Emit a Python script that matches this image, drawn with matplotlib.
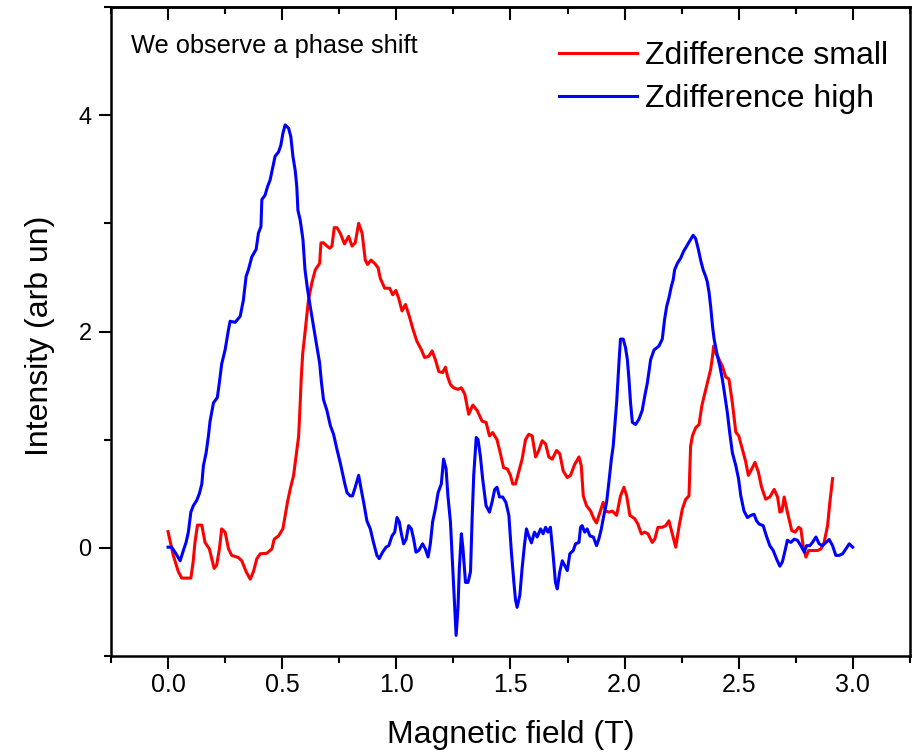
import numpy as np
import matplotlib
matplotlib.use('Agg')
import matplotlib.pyplot as plt
from matplotlib.ticker import MultipleLocator

plt.rcParams['font.family'] = ['Liberation Sans', 'DejaVu Sans']

# Zdifference small (red)
xSmall = [0.000, 0.023, 0.045, 0.060, 0.100, 0.110, 0.118, 0.129, 0.148, 0.162,
          0.181, 0.202, 0.213, 0.225, 0.235, 0.250, 0.265, 0.279, 0.308, 0.323,
          0.342, 0.360, 0.374, 0.389, 0.404, 0.433, 0.455, 0.465, 0.484, 0.503,
          0.513, 0.523, 0.535, 0.550, 0.561, 0.572, 0.579, 0.583, 0.590, 0.600,
          0.615, 0.630, 0.645, 0.664, 0.670, 0.681, 0.696, 0.708, 0.718, 0.728,
          0.740, 0.754, 0.773, 0.791, 0.806, 0.820, 0.835, 0.850, 0.864, 0.874,
          0.889, 0.905, 0.920, 0.930, 0.949, 0.971, 0.984, 0.998, 1.010, 1.025,
          1.040, 1.057, 1.073, 1.090, 1.110, 1.124, 1.142, 1.157, 1.171, 1.186,
          1.203, 1.215, 1.225, 1.237, 1.251, 1.270, 1.285, 1.300, 1.317, 1.335,
          1.354, 1.376, 1.393, 1.408, 1.422, 1.441, 1.456, 1.470, 1.486, 1.500,
          1.510, 1.522, 1.536, 1.551, 1.566, 1.580, 1.595, 1.610, 1.624, 1.639,
          1.654, 1.668, 1.683, 1.702, 1.716, 1.731, 1.749, 1.763, 1.781, 1.800,
          1.810, 1.819, 1.833, 1.851, 1.865, 1.877, 1.892, 1.906, 1.917, 1.931,
          1.946, 1.965, 1.982, 1.997, 2.009, 2.023, 2.044, 2.058, 2.073, 2.088,
          2.102, 2.121, 2.132, 2.146, 2.165, 2.180, 2.194, 2.209, 2.224, 2.239,
          2.253, 2.268, 2.282, 2.289, 2.297, 2.311, 2.326, 2.338, 2.348, 2.363,
          2.377, 2.385, 2.390, 2.400, 2.414, 2.428, 2.443, 2.457, 2.472, 2.487,
          2.500, 2.516, 2.530, 2.542, 2.557, 2.571, 2.586, 2.600, 2.618, 2.636,
          2.655, 2.670, 2.680, 2.689, 2.699, 2.713, 2.732, 2.747, 2.762, 2.772,
          2.782, 2.794, 2.806, 2.823, 2.845, 2.860, 2.874, 2.889, 2.899, 2.911]
ySmall = [0.15, -0.07, -0.22, -0.28, -0.28, -0.13, 0.05, 0.21, 0.21, 0.05,
          -0.01, -0.19, -0.16, -0.01, 0.175, 0.145, -0.01, -0.07, -0.09, -0.12,
          -0.22, -0.29, -0.22, -0.10, -0.055, -0.05, -0.01, 0.08, 0.11, 0.175,
          0.30, 0.42, 0.54, 0.67, 0.85, 1.03, 1.34, 1.55, 1.80, 1.99,
          2.29, 2.45, 2.57, 2.63, 2.82, 2.82, 2.79, 2.77, 2.79, 2.96,
          2.96, 2.91, 2.81, 2.88, 2.79, 2.82, 3.00, 2.91, 2.66, 2.62,
          2.66, 2.63, 2.59, 2.49, 2.40, 2.40, 2.34, 2.38, 2.31, 2.19,
          2.25, 2.14, 2.02, 1.91, 1.83, 1.76, 1.77, 1.82, 1.74, 1.63,
          1.62, 1.67, 1.58, 1.51, 1.48, 1.465, 1.48, 1.42, 1.235, 1.32,
          1.27, 1.17, 1.16, 1.035, 1.066, 1.00, 0.87, 0.74, 0.73, 0.67,
          0.59, 0.59, 0.70, 0.82, 1.00, 1.05, 1.035, 0.84, 0.90, 0.99,
          0.96, 0.84, 0.82, 0.90, 0.87, 0.71, 0.65, 0.67, 0.77, 0.84,
          0.76, 0.48, 0.39, 0.34, 0.27, 0.23, 0.33, 0.42, 0.34, 0.33,
          0.34, 0.30, 0.48, 0.56, 0.48, 0.30, 0.27, 0.22, 0.13, 0.145,
          0.13, 0.05, 0.08, 0.19, 0.19, 0.205, 0.25, 0.13, 0.006, 0.205,
          0.36, 0.45, 0.48, 0.94, 1.035, 1.11, 1.14, 1.31, 1.40, 1.53,
          1.65, 1.77, 1.865, 1.80, 1.74, 1.68, 1.58, 1.56, 1.34, 1.07,
          1.035, 0.91, 0.80, 0.67, 0.73, 0.79, 0.70, 0.56, 0.45, 0.47,
          0.54, 0.47, 0.33, 0.34, 0.47, 0.33, 0.16, 0.145, 0.19, 0.175,
          0.02, -0.085, -0.025, -0.025, -0.025, -0.01, 0.05, 0.205, 0.42, 0.64]

# Zdifference high (blue)
xHigh = [0.000, 0.016, 0.035, 0.053, 0.067, 0.079, 0.089, 0.100, 0.111, 0.126,
         0.137, 0.148, 0.155, 0.167, 0.177, 0.184, 0.199, 0.216, 0.225, 0.235,
         0.250, 0.265, 0.272, 0.294, 0.316, 0.330, 0.342, 0.352, 0.367, 0.386,
         0.396, 0.407, 0.411, 0.425, 0.436, 0.447, 0.459, 0.469, 0.484, 0.494,
         0.503, 0.513, 0.528, 0.538, 0.547, 0.557, 0.564, 0.569, 0.579, 0.591,
         0.600, 0.611, 0.623, 0.637, 0.652, 0.664, 0.672, 0.681, 0.696, 0.711,
         0.725, 0.740, 0.755, 0.773, 0.784, 0.798, 0.808, 0.820, 0.835, 0.846,
         0.857, 0.871, 0.886, 0.900, 0.915, 0.925, 0.940, 0.955, 0.967, 0.981,
         0.993, 1.003, 1.013, 1.022, 1.032, 1.043, 1.054, 1.066, 1.076, 1.086,
         1.098, 1.115, 1.127, 1.139, 1.149, 1.159, 1.171, 1.183, 1.197, 1.207,
         1.218, 1.226, 1.237, 1.247, 1.256, 1.262, 1.270, 1.276, 1.285, 1.292,
         1.303, 1.314, 1.325, 1.332, 1.339, 1.350, 1.358, 1.368, 1.378, 1.393,
         1.408, 1.419, 1.431, 1.441, 1.452, 1.466, 1.480, 1.493, 1.504, 1.515,
         1.522, 1.529, 1.541, 1.551, 1.561, 1.570, 1.580, 1.592, 1.605, 1.617,
         1.632, 1.643, 1.654, 1.664, 1.675, 1.687, 1.697, 1.705, 1.716, 1.727,
         1.737, 1.749, 1.760, 1.775, 1.785, 1.800, 1.807, 1.814, 1.825, 1.836,
         1.848, 1.863, 1.877, 1.887, 1.898, 1.909, 1.921, 1.931, 1.942, 1.950,
         1.956, 1.965, 1.971, 1.976, 1.982, 1.994, 2.004, 2.012, 2.019, 2.026,
         2.034, 2.048, 2.063, 2.077, 2.088, 2.100, 2.114, 2.129, 2.150, 2.165,
         2.175, 2.184, 2.194, 2.205, 2.213, 2.219, 2.231, 2.246, 2.258, 2.272,
         2.286, 2.300, 2.311, 2.323, 2.333, 2.344, 2.355, 2.362, 2.370, 2.377,
         2.385, 2.392, 2.404, 2.417, 2.428, 2.435, 2.450, 2.460, 2.472, 2.487,
         2.499, 2.509, 2.523, 2.538, 2.553, 2.567, 2.578, 2.589, 2.607, 2.621,
         2.636, 2.651, 2.665, 2.680, 2.691, 2.703, 2.713, 2.728, 2.743, 2.757,
         2.772, 2.787, 2.797, 2.811, 2.823, 2.838, 2.852, 2.867, 2.882, 2.896,
         2.911, 2.925, 2.940, 2.955, 2.969, 2.984, 2.999]
yHigh = [0.006, 0.006, -0.055, -0.12, -0.025, 0.05, 0.145, 0.33, 0.39, 0.44,
         0.50, 0.59, 0.76, 0.88, 1.035, 1.17, 1.34, 1.39, 1.53, 1.70,
         1.83, 2.02, 2.095, 2.085, 2.14, 2.29, 2.51, 2.57, 2.69, 2.76,
         2.91, 2.97, 3.22, 3.26, 3.34, 3.40, 3.52, 3.62, 3.66, 3.72,
         3.83, 3.91, 3.88, 3.80, 3.62, 3.49, 3.34, 3.12, 3.03, 2.85,
         2.57, 2.39, 2.23, 2.05, 1.86, 1.71, 1.53, 1.37, 1.27, 1.13,
         1.05, 0.91, 0.78, 0.605, 0.51, 0.48, 0.48, 0.56, 0.67, 0.54,
         0.42, 0.25, 0.175, 0.05, -0.07, -0.10, -0.04, 0.006, 0.02, 0.11,
         0.145, 0.28, 0.24, 0.13, 0.037, 0.08, 0.205, 0.175, 0.08, -0.04,
         -0.025, 0.037, -0.01, -0.085, 0.037, 0.24, 0.36, 0.51, 0.59, 0.82,
         0.73, 0.48, 0.24, -0.19, -0.56, -0.81, -0.56, -0.19, 0.13, -0.01,
         -0.32, -0.32, -0.22, 0.27, 0.67, 1.02, 1.00, 0.85, 0.64, 0.39,
         0.33, 0.42, 0.54, 0.56, 0.47, 0.47, 0.42, 0.30, -0.04, -0.32,
         -0.48, -0.55, -0.44, -0.19, 0.02, 0.175, 0.11, 0.046, 0.145, 0.10,
         0.175, 0.13, 0.19, 0.145, 0.19, -0.07, -0.32, -0.38, -0.22, -0.12,
         -0.16, -0.21, -0.055, -0.025, 0.037, 0.05, 0.19, 0.205, 0.145, 0.175,
         0.11, 0.10, 0.02, 0.08, 0.175, 0.30, 0.42, 0.605, 0.82, 0.94,
         1.10, 1.34, 1.56, 1.74, 1.93, 1.93, 1.85, 1.74, 1.56, 1.34,
         1.16, 1.14, 1.19, 1.27, 1.40, 1.53, 1.74, 1.83, 1.865, 1.93,
         2.11, 2.23, 2.31, 2.42, 2.48, 2.57, 2.63, 2.68, 2.74, 2.79,
         2.84, 2.89, 2.86, 2.76, 2.66, 2.57, 2.51, 2.46, 2.36, 2.23,
         2.05, 1.93, 1.80, 1.68, 1.56, 1.465, 1.25, 1.07, 0.88, 0.76,
         0.64, 0.48, 0.34, 0.28, 0.30, 0.31, 0.25, 0.22, 0.205, 0.11,
         0.02, -0.025, -0.10, -0.17, -0.13, -0.025, 0.07, 0.05, 0.08, 0.07,
         0.02, -0.04, 0.02, 0.02, 0.05, 0.10, 0.037, 0.02, 0.05, 0.077,
         0.02, -0.07, -0.07, -0.055, -0.01, 0.037, 0.006]

seriesLabels = ['Zdifference small', 'Zdifference high']
noteText = 'We observe a phase shift'

fig = plt.figure(figsize=(9.14, 7.56), dpi=100)
ax = fig.add_axes([0.1214, 0.1323, 0.8742, 0.8584])

ax.plot(xSmall, ySmall, color='#ff0000', lw=2.2, label=seriesLabels[0],
        solid_joinstyle='round')
ax.plot(xHigh, yHigh, color='#0000ff', lw=2.2, label=seriesLabels[1],
        solid_joinstyle='round')

ax.set_xlim(-0.25, 3.25)
ax.set_ylim(-1, 5)
ax.xaxis.set_major_locator(MultipleLocator(0.5))
ax.xaxis.set_minor_locator(MultipleLocator(0.25))
ax.yaxis.set_major_locator(MultipleLocator(2))
ax.yaxis.set_minor_locator(MultipleLocator(1))
ax.xaxis.set_major_formatter(plt.FormatStrFormatter('%.1f'))

for s in ax.spines.values():
    s.set_linewidth(1.8)

# bottom/left ticks outward, top ticks inward, none on right
ax.tick_params(axis='x', which='both', bottom=True, top=False, direction='out',
               width=1.5, labelsize=18, pad=3)
ax.tick_params(axis='x', which='major', length=9)
ax.tick_params(axis='x', which='minor', length=5)
ax.tick_params(axis='y', which='both', left=True, right=False, direction='out',
               width=1.5, labelsize=17, pad=5)
ax.tick_params(axis='y', which='major', length=9)
ax.tick_params(axis='y', which='minor', length=5)

top = ax.secondary_xaxis('top')
top.xaxis.set_major_locator(MultipleLocator(0.5))
top.xaxis.set_minor_locator(MultipleLocator(0.25))
top.tick_params(which='both', direction='in', width=1.5, labeltop=False)
top.tick_params(which='major', length=9)
top.tick_params(which='minor', length=5)
top.spines['top'].set_linewidth(1.8)

ax.set_xlabel('Magnetic field (T)', fontsize=23)
ax.xaxis.set_label_coords(0.5, -0.0986)
ax.set_ylabel('Intensity (arb un)', fontsize=23)
ax.yaxis.set_label_coords(-0.07, 0.493)

ax.text(0.025, 0.929, noteText, transform=ax.transAxes, fontsize=18.3,
        va='baseline', ha='left')

ax.legend(loc='upper left', bbox_to_anchor=(0.5607, 0.947), frameon=False,
          fontsize=23, handlelength=2.45, handletextpad=0.25,
          labelspacing=0.39, borderpad=0, borderaxespad=0)

fig.savefig('out.png', dpi=100)
